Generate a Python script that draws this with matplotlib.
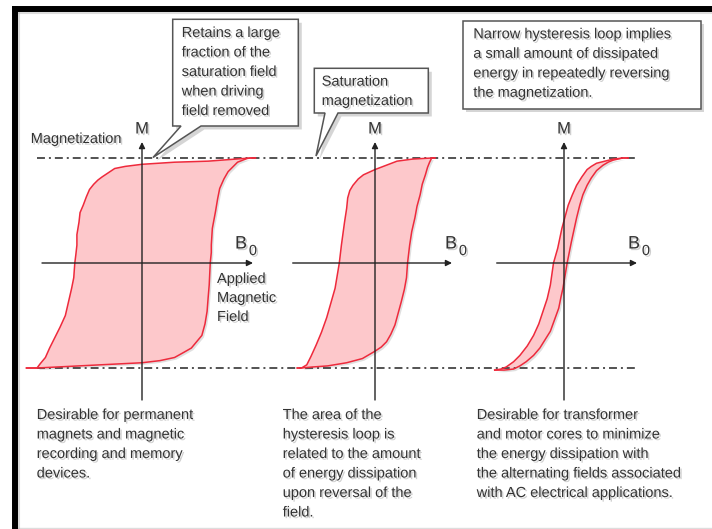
import matplotlib
matplotlib.use('Agg')
import matplotlib.pyplot as plt
import matplotlib.patheffects as pe
import matplotlib.transforms as mtransforms
from matplotlib.patches import Polygon

plt.rcParams['font.family'] = ['Liberation Sans', 'DejaVu Sans']

# ループの読み取り値 (B: 印加磁場, M: 磁化, 飽和 = ±1)
# 1: 硬磁性体 (幅の広いループ)
hard_up_B = [1.08, 1.03, 0.63, 0.31, 0.0, -0.16, -0.26, -0.32, -0.38, -0.42, -0.46, -0.50,
             -0.53, -0.56, -0.59, -0.60, -0.62, -0.62, -0.63, -0.64, -0.65, -0.67, -0.70,
             -0.73, -0.78, -0.83, -0.88, -0.92, -0.97, -1.00, -1.10]
hard_up_M = [1.00, 1.00, 0.97, 0.96, 0.94, 0.92, 0.90, 0.86, 0.82, 0.79, 0.75, 0.70,
             0.63, 0.55, 0.48, 0.39, 0.27, 0.17, 0.08, 0.0, -0.14, -0.24, -0.37,
             -0.50, -0.61, -0.71, -0.81, -0.90, -0.96, -1.00, -1.00]
hard_dn_B = [-1.10, -1.00, -0.80, -0.40, 0.0, 0.17, 0.31, 0.40, 0.47, 0.52, 0.57, 0.60,
             0.62, 0.63, 0.64, 0.65, 0.66, 0.66, 0.67, 0.70, 0.72, 0.74, 0.78, 0.82, 0.87,
             0.91, 1.00, 1.03, 1.08]
hard_dn_M = [-1.00, -1.00, -0.99, -0.97, -0.95, -0.93, -0.90, -0.85, -0.81, -0.75, -0.69,
             -0.58, -0.46, -0.33, -0.21, 0.0, 0.10, 0.17, 0.33, 0.49, 0.61, 0.71, 0.80,
             0.87, 0.92, 0.96, 0.995, 1.00, 1.00]
# 2: 中間のループ
mid_up_B = [0.57, 0.54, 0.36, 0.21, 0.0, -0.11, -0.16, -0.21, -0.24, -0.26, -0.27, -0.29,
            -0.32, -0.34, -0.36, -0.38, -0.42, -0.46, -0.51, -0.56, -0.61, -0.65, -0.70,
            -0.74]
mid_up_M = [1.00, 1.00, 0.99, 0.97, 0.89, 0.84, 0.80, 0.74, 0.69, 0.62, 0.52, 0.39,
            0.17, 0.0, -0.12, -0.24, -0.38, -0.52, -0.66, -0.78, -0.89, -0.97, -1.00,
            -1.00]
mid_dn_B = [-0.74, -0.70, -0.59, -0.45, -0.27, -0.12, 0.0, 0.06, 0.11, 0.15, 0.19, 0.22,
            0.25, 0.28, 0.30, 0.31, 0.33, 0.35, 0.38, 0.40, 0.43, 0.45, 0.48, 0.50, 0.52,
            0.54, 0.57]
mid_dn_M = [-1.00, -1.00, -0.99, -0.98, -0.95, -0.91, -0.84, -0.80, -0.75, -0.68, -0.59,
            -0.48, -0.37, -0.25, -0.14, 0.0, 0.17, 0.30, 0.43, 0.54, 0.65, 0.75, 0.84,
            0.91, 0.96, 1.00, 1.00]
# 3: 軟磁性体 (細いループ)
soft_up_B = [0.61, 0.56, 0.47, 0.39, 0.31, 0.26, 0.22, 0.17, 0.12, 0.08, 0.04, 0.01,
             -0.02, -0.06, -0.10, -0.13, -0.16, -0.20, -0.24, -0.29, -0.35, -0.42, -0.48,
             -0.55, -0.60, -0.66]
soft_up_M = [1.00, 1.00, 0.99, 0.97, 0.95, 0.92, 0.89, 0.82, 0.74, 0.65, 0.55, 0.44,
             0.33, 0.14, 0.0, -0.21, -0.34, -0.46, -0.58, -0.69, -0.79, -0.88, -0.94,
             -0.99, -1.01, -1.02]
soft_dn_B = [-0.66, -0.57, -0.48, -0.42, -0.36, -0.29, -0.23, -0.18, -0.13, -0.09, -0.05,
             -0.03, -0.01, 0.01, 0.03, 0.07, 0.12, 0.15, 0.18, 0.22, 0.26, 0.31, 0.37,
             0.42, 0.47, 0.56, 0.61]
soft_dn_M = [-1.02, -1.02, -1.01, -0.98, -0.94, -0.88, -0.81, -0.73, -0.65, -0.54, -0.43,
             -0.33, -0.24, -0.12, 0.0, 0.20, 0.43, 0.55, 0.65, 0.74, 0.81, 0.88, 0.93,
             0.96, 0.98, 1.00, 1.00]

box1_lines = ['Retains a large', 'fraction of the', 'saturation field', 'when driving',
              'field removed']
box2_lines = ['Saturation', 'magnetization']
box3_lines = ['Narrow hysteresis loop implies', 'a small amount of dissipated',
              'energy in repeatedly reversing', 'the magnetization.']
col1_lines = ['Desirable for permanent', 'magnets and magnetic', 'recording and memory',
              'devices.']
col2_lines = ['The area of the', 'hysteresis loop is', 'related to the amount',
              'of energy dissipation', 'upon reversal of the', 'field.']
col3_lines = ['Desirable for transformer', 'and motor cores to minimize',
              'the energy dissipation with', 'the alternating fields associated',
              'with AC electrical applications.']
field_lines = ['Applied', 'Magnetic', 'Field']

TXT = '#333333'
shadow = [pe.withSimplePatchShadow(offset=(1.2, -1.2), shadow_rgbFace='#777777', alpha=0.35)]

fig = plt.figure(figsize=(7.12, 5.29), dpi=100)
ax = fig.add_axes([0, 0, 1, 1])
ax.set_xlim(0, 712)
ax.set_ylim(529, 0)
ax.axis('off')

# 枠
ax.plot([12, 712], [9, 9], color='black', lw=4.3, solid_capstyle='butt', zorder=10)
ax.plot([15, 15], [6, 529], color='black', lw=4.3, solid_capstyle='butt', zorder=10)
ax.plot([18, 712], [13, 13], color='#bbbbbb', lw=1.5, alpha=0.5, zorder=9)
ax.plot([19, 19], [12, 529], color='#bbbbbb', lw=1.5, alpha=0.5, zorder=9)
ax.plot([18, 712], [528, 528], color='#dddddd', lw=1.0)


def text_block(x, y0, lines, step=19.5, size=10.5):
    for i, s in enumerate(lines):
        ax.text(x, y0 + i * step, s, fontsize=size, color=TXT, ha='left', va='center',
                path_effects=shadow, zorder=12)


def bubble(pts):
    p = Polygon(pts, closed=True, facecolor='white', edgecolor='#555555', lw=1.1,
                joinstyle='miter', zorder=11,
                path_effects=[pe.withSimplePatchShadow(offset=(2.5, -2.5),
                                                       shadow_rgbFace='#888888', alpha=0.35)])
    ax.add_patch(p)


# 吹き出し
bubble([(172.7, 19.3), (298.3, 19.3), (298.3, 126), (201, 126), (153, 157.5),
        (181, 126), (172.7, 126)])
bubble([(314.3, 68.3), (428.3, 68.3), (428.3, 113), (338, 113), (316, 156),
        (325, 113), (314.3, 113)])
bubble([(462.7, 20.7), (700.7, 20.7), (700.7, 109), (462.7, 109)])
text_block(181.7, 33, box1_lines)
text_block(321.7, 81.7, box2_lines, step=19.3)
text_block(473.3, 34.3, box3_lines)

# 飽和線
dd = (0, (4.4, 2.2, 1.1, 2.2))
for ys in (157.5, 368):
    ax.plot([37, 638], [ys, ys], color='#444444', lw=1.3, linestyle=dd, zorder=4)

loops = [
    (142, hard_up_B, hard_up_M, hard_dn_B, hard_dn_M, 42, 253, (241, 244), (253, 251)),
    (375, mid_up_B, mid_up_M, mid_dn_B, mid_dn_M, 292.7, 452, (451, 244), (463, 251)),
    (564, soft_up_B, soft_up_M, soft_dn_B, soft_dn_M, 496.7, 637, (634, 244), (646, 251)),
]
Y0 = 263
S = 105
for x0, ub, um, db, dm, xl, xr, bpos, zpos in loops:
    tr = mtransforms.Affine2D().scale(S, -S).translate(x0, Y0) + ax.transData
    xs = list(db) + list(ub)
    ys = list(dm) + list(um)
    poly = Polygon(list(zip(xs, ys)), closed=True, facecolor='#fdc8cb', edgecolor='none',
                   transform=tr, zorder=2,
                   path_effects=[pe.withSimplePatchShadow(offset=(1.5, -1.5),
                                                          shadow_rgbFace='#999999', alpha=0.3)])
    ax.add_patch(poly)
    ax.plot(ub, um, color='#ee2a3c', lw=1.1, transform=tr, zorder=5, solid_joinstyle='round')
    ax.plot(db, dm, color='#ee2a3c', lw=1.1, transform=tr, zorder=5, solid_joinstyle='round')
    # 軸
    ax.annotate('', xy=(xr, Y0), xytext=(xl, Y0),
                arrowprops=dict(arrowstyle='-|>', mutation_scale=9, lw=1.0, color='#222222',
                                shrinkA=0, shrinkB=0), zorder=6)
    ax.annotate('', xy=(x0, 142), xytext=(x0, 400),
                arrowprops=dict(arrowstyle='-|>', mutation_scale=9, lw=1.0, color='#222222',
                                shrinkA=0, shrinkB=0), zorder=6)
    ax.text(x0, 129, 'M', fontsize=12, color=TXT, ha='center', va='center',
            path_effects=shadow, zorder=12)
    ax.text(bpos[0], bpos[1], 'B', fontsize=13, color=TXT, ha='center', va='center',
            path_effects=shadow, zorder=12)
    ax.text(zpos[0], zpos[1], '0', fontsize=10.5, color=TXT, ha='center', va='center',
            path_effects=shadow, zorder=12)

ax.text(30.7, 139, 'Magnetization', fontsize=10.5, color=TXT, ha='left', va='center',
        path_effects=shadow, zorder=12)
text_block(217, 279, field_lines, step=19)

text_block(36.7, 415, col1_lines)
text_block(282.7, 415, col2_lines)
text_block(476.7, 415, col3_lines)

plt.savefig('out.png', dpi=100)
